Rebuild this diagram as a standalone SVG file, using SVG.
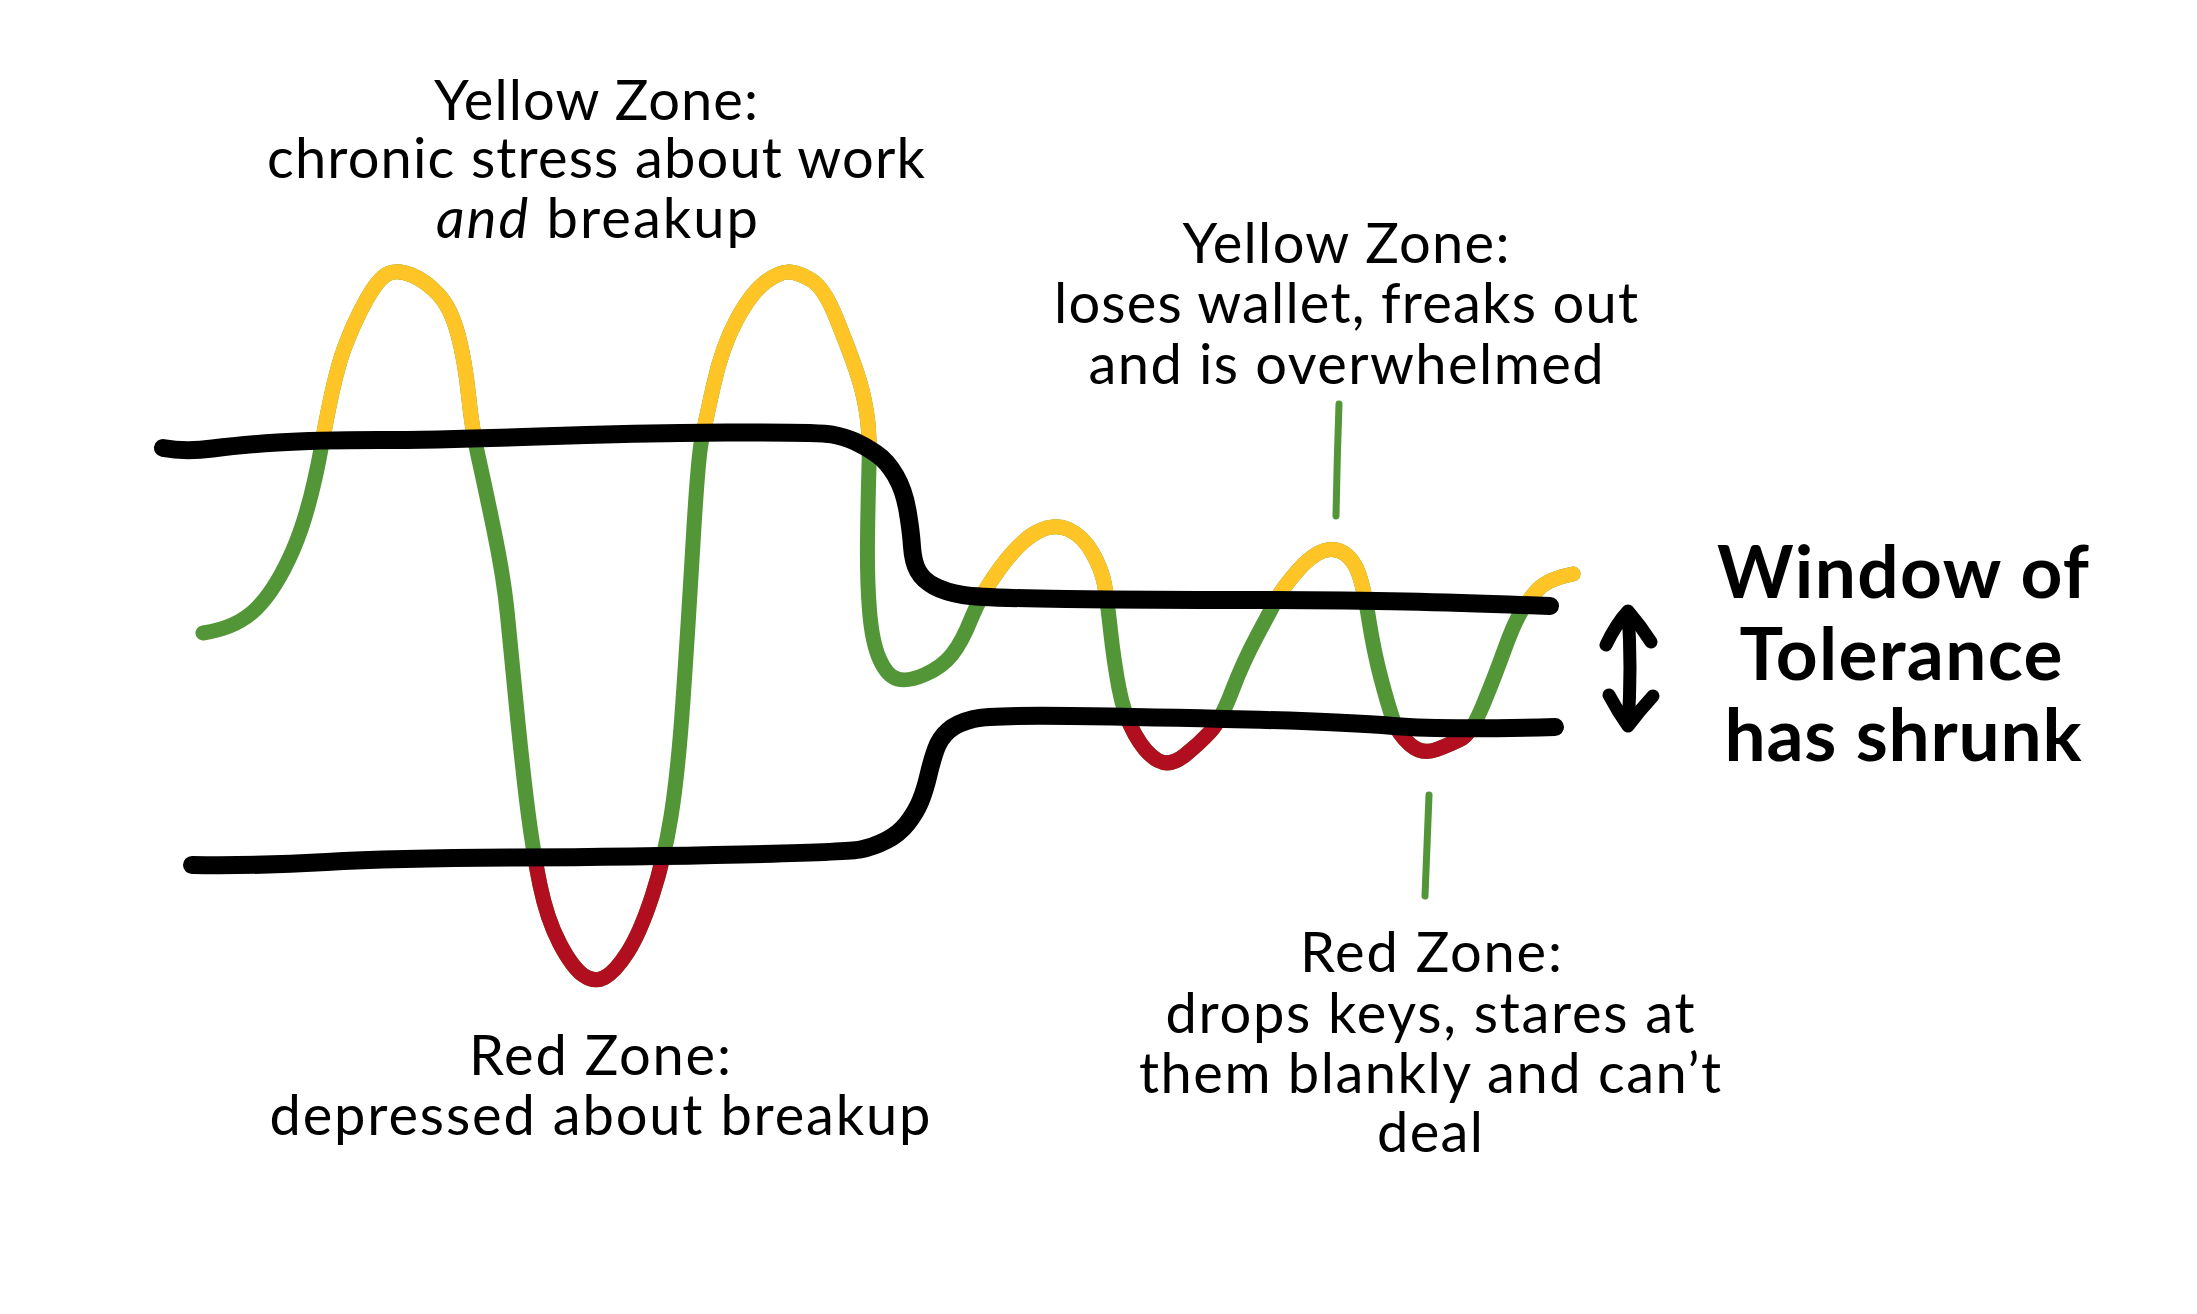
<svg xmlns="http://www.w3.org/2000/svg" width="2197" height="1314" viewBox="0 0 2197 1314">
<style>
.lbl{font-family:Lato,"Noto Sans","Liberation Sans",sans-serif;font-size:56px;fill:#000;text-anchor:middle}
.big{font-family:Lato,"Noto Sans","Liberation Sans",sans-serif;font-size:73px;font-weight:700;fill:#000;text-anchor:middle}
.wave{fill:none;stroke-width:15;stroke-linecap:round;stroke-linejoin:round}
.edge{fill:none;stroke:#000;stroke-width:18;stroke-linecap:round;stroke-linejoin:round}
.tick{fill:none;stroke:#529638;stroke-width:7;stroke-linecap:round}
</style>
<defs>
<path id="wavePath" d="M203,633 Q237,628 256.5,608.5 Q276,589 293,550 Q310,511 322,443.5 Q334,376 344,349 Q354,322 366,300.5 Q378,279 387.5,274 Q397,269 411.5,275 Q426,281 438.5,294.5 Q451,308 458,334.5 Q465,361 468.5,395 Q472,429 478,455.5 Q484,482 494,530.5 Q504,579 507.5,615.5 Q511,652 517,712.5 Q523,773 528,812 Q533,851 540,885 Q547,919 559.5,943 Q572,967 583,975 Q594,983 604.5,977.5 Q615,972 627.5,952.5 Q640,933 652,896.5 Q664,860 671,816.5 Q678,773 683,700.5 Q688,628 693,543 Q698,458 701.5,441 Q705,424 713.5,385.5 Q722,347 736.5,320 Q751,293 765.5,282 Q780,271 790,272 Q800,273 812,280.5 Q824,288 836,317.5 Q848,347 855.5,368.5 Q863,390 866.5,412 Q870,434 869,467 Q868,500 867.5,539.5 Q867,579 869.5,610.5 Q872,642 879.5,659 Q887,676 897.5,679 Q908,682 925,674.5 Q942,667 952,654.5 Q962,642 971.5,618 Q981,594 1000.5,567.5 Q1020,541 1037,532 Q1054,523 1068.5,529.5 Q1083,536 1092.5,553 Q1102,570 1104.5,584.5 Q1107,599 1110.5,630.5 Q1114,662 1119,688.5 Q1124,715 1135,734.5 Q1146,754 1158,760.5 Q1170,767 1184.5,755.5 Q1199,744 1210,732 Q1221,720 1232,691 Q1243,662 1257.5,635 Q1272,608 1277,598.5 Q1282,589 1296.5,572 Q1311,555 1323,551 Q1335,547 1344.5,553.5 Q1354,560 1359,574.5 Q1364,589 1369,620.5 Q1374,652 1381,678.5 Q1388,705 1393,719.5 Q1398,734 1410,744.5 Q1422,755 1436.5,749.5 Q1451,744 1461,739 Q1471,734 1483,705 Q1495,676 1504.5,649.5 Q1514,623 1521.5,611 Q1529,599 1538.5,589 Q1548,579 1573,574"/>
<clipPath id="aboveUpper">
<polygon points="0,0 2197,0 2197,606 1550,606 1466,603 1151,600 981,598 945,592 923,580 913,562 911,531 904,490 887,461 865,446 845,437 819,432 635,433 441,440 315,440 240,445 185,452 0,452"/>
</clipPath>
<clipPath id="belowLower">
<polygon points="0,1314 0,865 192,865 261,866 392,858 635,857 848,852 873,847 899,834 916,812 925,790 932,760 940,738 957,723 990,715 1151,717 1345,722 1442,730 1555,727 2197,727 2197,1314"/>
</clipPath>
</defs>
<rect width="2197" height="1314" fill="#fff"/>

<g id="arousal-wave">
<use href="#wavePath" class="wave" stroke="#529638"/>
<use href="#wavePath" class="wave" stroke="#FFC425" clip-path="url(#aboveUpper)"/>
<use href="#wavePath" class="wave" stroke="#B10F20" clip-path="url(#belowLower)"/>
</g>

<g id="window-boundaries">
<path id="upper-boundary" class="edge" d="M163,448 Q185,452 212.5,448.5 Q240,445 277.5,442.5 Q315,440 378,440 Q441,440 538,436.5 Q635,433 727,432.5 Q819,432 832,434.5 Q845,437 855,441.5 Q865,446 876,453.5 Q887,461 895.5,475.5 Q904,490 907.5,510.5 Q911,531 912,546.5 Q913,562 918,571 Q923,580 934,586 Q945,592 963,595 Q981,598 1066,599 Q1151,600 1248,600 Q1345,600 1405.5,601.5 Q1466,603 1550,606"/>
<path id="lower-boundary" class="edge" d="M192,865 Q261,866 326.5,862 Q392,858 513.5,857.5 Q635,857 741.5,854.5 Q848,852 860.5,849.5 Q873,847 886,840.5 Q899,834 907.5,823 Q916,812 920.5,801 Q925,790 928.5,775 Q932,760 936,749 Q940,738 948.5,730.5 Q957,723 973.5,719 Q990,715 1070.5,716 Q1151,717 1248,719.5 Q1345,722 1393.5,726 Q1442,730 1555,727"/>
</g>

<g id="connectors">
<path class="tick" d="M1339,404 Q1337,460 1336,516"/>
<path class="tick" d="M1429,795 Q1427,845 1425,896"/>
</g>

<g id="window-arrow">
<path fill="none" stroke="#000" stroke-width="13" stroke-linecap="round" stroke-linejoin="round" d="M1606,645 Q1616,624 1628,611 Q1641,626 1651,642 M1628,611 Q1632,668 1628,726 M1609,695 Q1618,712 1628,726 Q1640,710 1653,696"/>
</g>

<g id="label-yellow-left">
<text class="lbl" x="596" y="120" textLength="324">Yellow Zone:</text>
<text class="lbl" x="596" y="178" textLength="658">chronic stress about work</text>
<text class="lbl" x="597" y="238" textLength="322"><tspan font-style="italic">and</tspan> breakup</text>
</g>

<g id="label-red-left">
<text class="lbl" x="600" y="1075" textLength="262">Red Zone:</text>
<text class="lbl" x="600" y="1135" textLength="661">depressed about breakup</text>
</g>

<g id="label-yellow-right">
<text class="lbl" x="1346" y="263" textLength="327">Yellow Zone:</text>
<text class="lbl" x="1346" y="323" textLength="584">loses wallet, freaks out</text>
<text class="lbl" x="1346" y="384" textLength="515">and is overwhelmed</text>
</g>

<g id="label-red-right">
<text class="lbl" x="1431" y="972" textLength="262">Red Zone:</text>
<text class="lbl" x="1430" y="1033" textLength="529">drops keys, stares at</text>
<text class="lbl" x="1430" y="1093" textLength="582">them blankly and can’t</text>
<text class="lbl" x="1430" y="1152" textLength="106">deal</text>
</g>

<g id="label-window">
<text class="big" x="1903" y="598" textLength="372">Window of</text>
<text class="big" x="1901" y="680" textLength="323">Tolerance</text>
<text class="big" x="1903" y="761" textLength="357">has shrunk</text>
</g>
</svg>
